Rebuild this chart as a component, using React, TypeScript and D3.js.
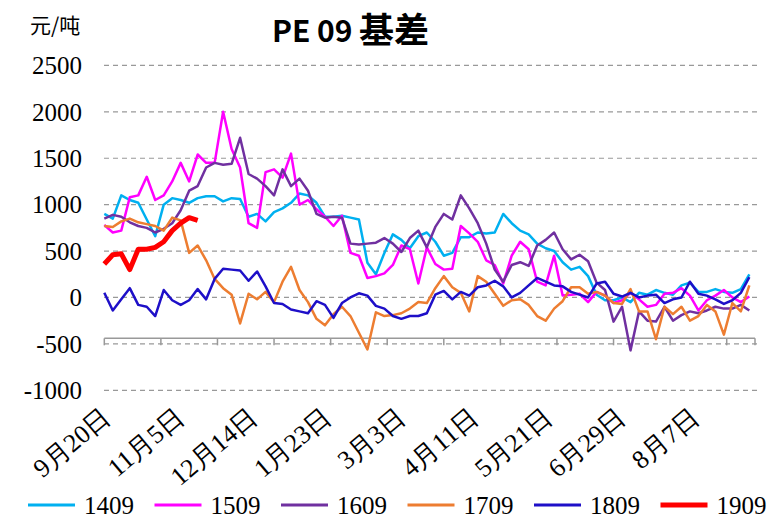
import React, { useEffect } from 'react';
import * as d3 from 'd3';

// sampled every 3 trading days, starting 9月20日
const STEP = 3;
const xLabels = ['9月20日', '11月5日', '12月14日', '1月23日', '3月3日', '4月11日', '5月21日', '6月29日', '8月7日'];
const yTicks = [2500, 2000, 1500, 1000, 500, 0, -500, -1000];

const s1409 = [
  900, 850, 1100, 1050, 1020, 840, 660, 1000, 1070, 1050, 1020, 1070, 1090, 1090, 1035,
  1070, 1060, 870, 900, 820, 920, 960, 1020, 1120, 1100, 1020, 870, 870, 880, 860, 840,
  375, 250, 480, 680, 620, 530, 660, 700, 600, 450, 480, 650, 650, 700, 690,
  700, 900, 800, 720, 680, 580, 530, 500, 380, 300, 330, 230, 30, -30, -30,
  0, -50, 50, 30, 80, 50, 30, 130, 160, 60, 60, 90, 60, 50, 90, 250,
];
const s1509 = [
  780, 700, 720, 1080, 1100, 1300, 1050, 1100, 1250, 1450, 1250, 1540, 1450, 1450, 2000,
  1600, 1400, 800, 750, 1350, 1380, 1290, 1550, 1000, 1050, 950, 870, 770, 880, 480, 450,
  210, 230, 260, 350, 560, 520, 150, 540, 360, 300, 310, 770, 690, 600, 400,
  350, 150, 450, 600, 520, 170, 130, 450, 20, 30, 40, -50, 60, 20, -60,
  -30, 50, -20, -100, -80, 40, 50, 100, 20, -140, -30, 20, 80, 0, -50, 10,
];
const s1609 = [
  850, 890, 870, 810, 770, 750, 700, 740, 800, 940, 1150, 1200, 1400, 1450, 1430,
  1440, 1720, 1330, 1280, 1200, 1100, 1380, 1200, 1280, 1150, 900, 860, 870, 860, 580, 570,
  580, 590, 640, 580, 490, 640, 720, 540, 760, 900, 840, 1100, 960, 800, 580,
  300, 170, 350, 380, 340, 560, 620, 700, 520, 410, 460, 390, 160, 80, -260,
  -100, -570, -150, -250, -260, -100, -250, -190, -150, -170, -140, -100, -120, -120, -80, -140,
];
const s1709 = [
  770, 760, 820, 850, 810, 790, 770, 720, 860, 830, 480, 560, 400, 200, 100,
  30, -280, 40, -20, 60, -50, 170, 330, 80, -50, -230, -300, -180, -100, -200, -380,
  -560, -160, -200, -190, -170, -120, -50, -60, 100, 230, 110, 50, -150, 230, 170,
  40, -90, -30, -20, -80, -200, -250, -120, -40, 110, 110, 40, 60, 20, -60,
  -70, 90, -150, -150, -450, -100, -180, -100, -250, -200, -80, -150, -400, -60, -150, 130,
];
const s1809 = [
  50, -140, -20, 100, -80, -100, -200, 80, -30, -80, -30, 90, -20, 200, 310,
  300, 290, 180, 280, 120, -60, -70, -130, -150, -170, -40, -80, -220, -60, 0, 45,
  20, -90, -120, -200, -230, -200, -200, -170, 30, 70, -20, 60, 20, 110, 130,
  180, 120, 0, 50, 130, 210, 170, 130, 120, 60, 30, 0, 150, 170, 40,
  10, 50, 0, 20, 30, -60, -20, 0, 170, 40, 20, -20, -70, -30, 50, 220,
];
const s1909 = [360, 460, 470, 300, 520, 520, 540, 600, 720, 800, 860, 830];

const series = [
  { name: '1409', values: s1409, color: '#00B0F0', width: 2.5 },
  { name: '1509', values: s1509, color: '#FF00FF', width: 2.5 },
  { name: '1609', values: s1609, color: '#7030A0', width: 2.5 },
  { name: '1709', values: s1709, color: '#ED7D31', width: 2.5 },
  { name: '1809', values: s1809, color: '#1E0FC8', width: 2.5 },
  { name: '1909', values: s1909, color: '#FF0000', width: 5 },
];

const serif = '"Liberation Serif", "Times New Roman", serif';
const cjk = '"Noto Sans CJK SC", sans-serif';

const App: React.FC = () => {
  useEffect(() => {
    document.body.style.margin = '0';
  }, []);

  const width = 768;
  const height = 524;

  const xScale = d3.scaleLinear().domain([0, 230]).range([104.3, 755]);
  const yScale = d3.scaleLinear().domain([-1000, 2500]).range([390.3, 65.4]);

  const line = d3
    .line<number>()
    .x((_, i) => xScale(i * STEP))
    .y((d) => yScale(d));

  const axisY = yScale(-440);
  const tickIdx = d3.range(0, 221, 20);

  return (
    <svg width={width} height={height} style={{ display: 'block', background: '#fff' }}>
      {/* title */}
      <text x={30} y={33} fontFamily={cjk} fontSize={21} fill="#000">元/吨</text>
      <text x={272} y={42} fontFamily={cjk} fontWeight="bold" fontSize={30} fill="#000">PE</text>
      <text x={317} y={42} fontFamily={cjk} fontWeight="bold" fontSize={30} fill="#000">09</text>
      <text x={359} y={43} fontFamily={cjk} fontWeight="bold" fontSize={35} fill="#000">基差</text>

      {/* grid + y labels */}
      {yTicks.map((t) => (
        <g key={t}>
          <line
            x1={104}
            x2={757}
            y1={yScale(t)}
            y2={yScale(t)}
            stroke="#999"
            strokeWidth={1.2}
            strokeDasharray="5,4"
          />
          <text
            x={82}
            y={yScale(t)}
            dy="0.35em"
            textAnchor="end"
            fontFamily={serif}
            fontSize={25}
            fill="#000"
          >
            {t}
          </text>
        </g>
      ))}

      {/* x axis */}
      <line x1={xScale(0)} x2={xScale(230)} y1={axisY} y2={axisY} stroke="#999" strokeWidth={1.5} />
      {tickIdx.map((i) => (
        <line key={i} x1={xScale(i)} x2={xScale(i)} y1={axisY} y2={axisY + 7} stroke="#999" strokeWidth={1.5} />
      ))}
      <line x1={xScale(230)} x2={xScale(230)} y1={axisY} y2={axisY + 7} stroke="#999" strokeWidth={1.5} />
      {xLabels.map((l, i) => (
        <text
          key={l}
          transform={`translate(${xScale(i * 26) + 8},${420}) rotate(-40)`}
          textAnchor="end"
          fontFamily={serif}
          fontSize={26}
          fill="#000"
        >
          {l}
        </text>
      ))}

      {/* lines */}
      {series.map((s) => (
        <path
          key={s.name}
          d={line(s.values) || ''}
          fill="none"
          stroke={s.color}
          strokeWidth={s.width}
          strokeLinejoin="round"
        />
      ))}

      {/* legend */}
      {series.map((s, i) => {
        const x0 = 28 + i * 126.5;
        return (
          <g key={s.name}>
            <line x1={x0} x2={x0 + 47} y1={505} y2={505} stroke={s.color} strokeWidth={s.width === 5 ? 5 : 3} />
            <text x={x0 + 56} y={505} dy="0.35em" fontFamily={serif} fontSize={25} fill="#000">
              {s.name}
            </text>
          </g>
        );
      })}
    </svg>
  );
};

export default App;
